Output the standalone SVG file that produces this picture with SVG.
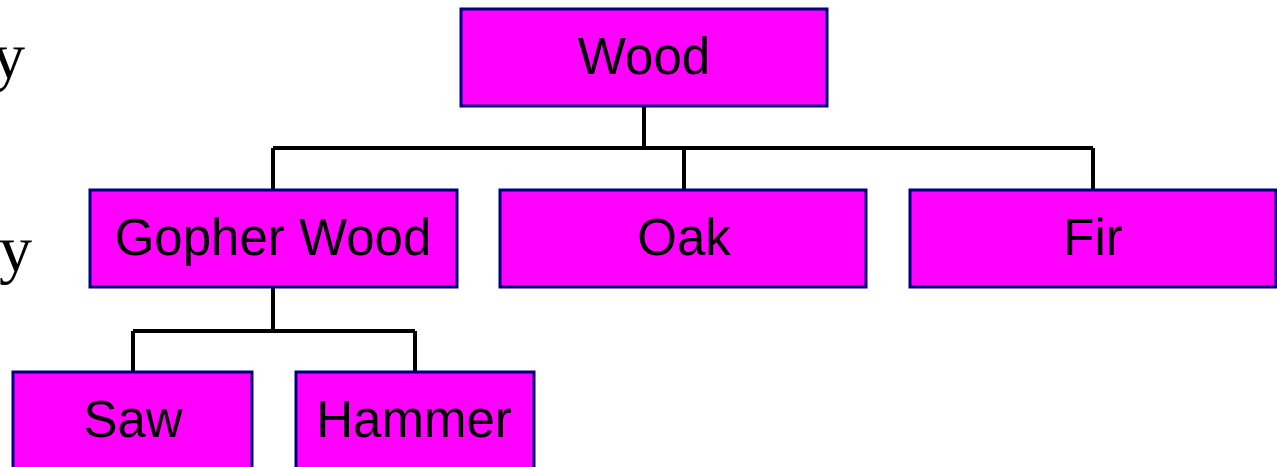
<svg xmlns="http://www.w3.org/2000/svg" width="1277" height="467" viewBox="0 0 1277 467">
<style>
.box{fill:#ff00ff;stroke:#000080;stroke-width:3}
.lbl{font-family:"Liberation Sans",Arial,sans-serif;font-size:51px;fill:#000;text-anchor:middle}
.side{font-family:"Liberation Serif","Times New Roman",serif;font-size:66px;fill:#000;text-anchor:end}
.conn{fill:none;stroke:#000;stroke-width:4}
</style>
<rect width="1277" height="467" fill="#fff"/>
<text class="side" x="25" y="78">y</text>
<text class="side" x="32" y="271">y</text>
<g id="connectors">
<path class="conn" d="M644 106V148M273 148H1093M273 148V190M684 148V190M1093 148V190"/>
<path class="conn" d="M273 287V331M133 331H415M133 331V372M415 331V372"/>
</g>
<g id="wood"><rect class="box" x="461" y="9" width="366" height="97"/><text class="lbl" x="644" y="74">Wood</text></g>
<g id="gopher"><rect class="box" x="90" y="190" width="367" height="97"/><text class="lbl" x="273" y="255">Gopher Wood</text></g>
<g id="oak"><rect class="box" x="500" y="190" width="366" height="97"/><text class="lbl" x="684" y="255">Oak</text></g>
<g id="fir"><rect class="box" x="910" y="190" width="366" height="97"/><text class="lbl" x="1093" y="255">Fir</text></g>
<g id="saw"><rect class="box" x="13" y="372" width="239" height="110"/><text class="lbl" x="133" y="437">Saw</text></g>
<g id="hammer"><rect class="box" x="296" y="372" width="238" height="110"/><text class="lbl" x="414" y="437">Hammer</text></g>
</svg>
